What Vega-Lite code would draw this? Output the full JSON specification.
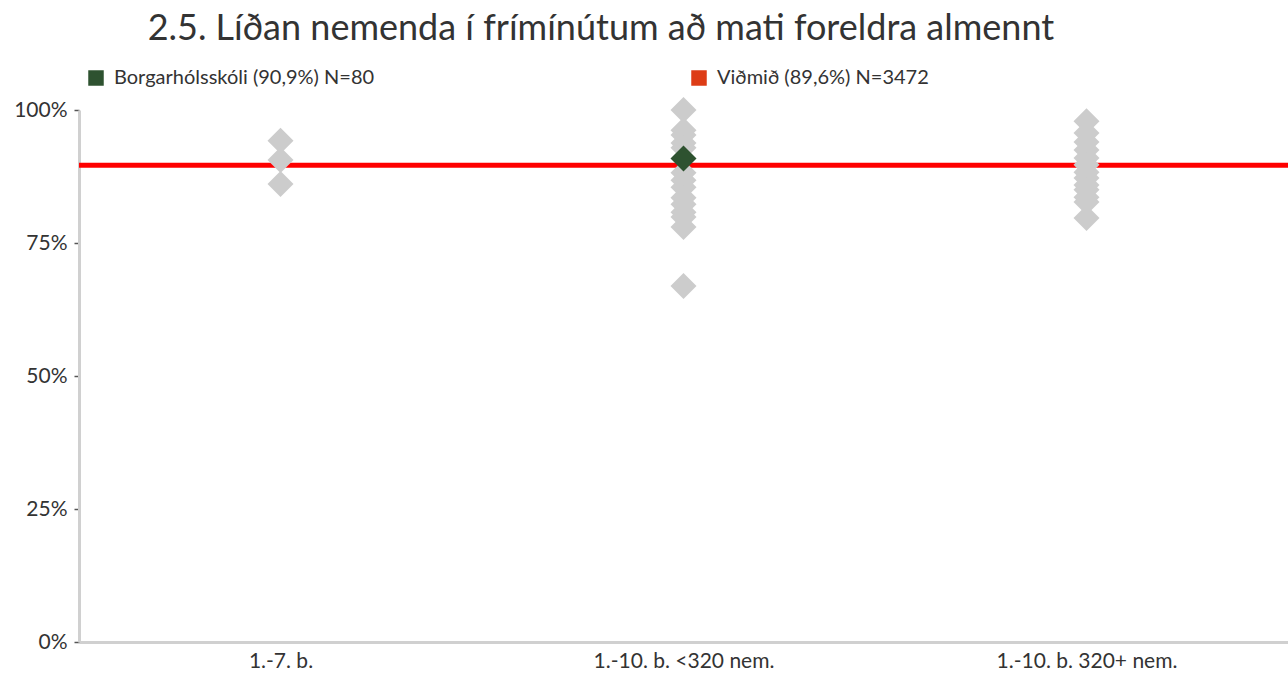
{
  "$schema": "https://vega.github.io/schema/vega-lite/v6.json",
  "width": 1209,
  "height": 532,
  "autosize": {"type": "none"},
  "padding": {"left": 79, "top": 110, "right": 0, "bottom": 33},
  "background": "white",
  "config": {"view": {"stroke": null}, "font": "Lato"},
  "title": {
    "text": "2.5. Líðan nemenda í frímínútum að mati foreldra almennt",
    "anchor": "start",
    "dx": 134,
    "offset": 20,
    "fontSize": 36,
    "font": "Lato",
    "fontWeight": "normal",
    "color": "#333333"
  },
  "datasets": {
    "schools": [
      {"group": "1.-7. b.", "value": 94.2},
      {"group": "1.-7. b.", "value": 90.6},
      {"group": "1.-7. b.", "value": 86.1},
      {"group": "1.-10. b. <320 nem.", "value": 100.0},
      {"group": "1.-10. b. <320 nem.", "value": 96.2},
      {"group": "1.-10. b. <320 nem.", "value": 95.3},
      {"group": "1.-10. b. <320 nem.", "value": 93.8},
      {"group": "1.-10. b. <320 nem.", "value": 92.9},
      {"group": "1.-10. b. <320 nem.", "value": 88.2},
      {"group": "1.-10. b. <320 nem.", "value": 86.8},
      {"group": "1.-10. b. <320 nem.", "value": 85.5},
      {"group": "1.-10. b. <320 nem.", "value": 83.5},
      {"group": "1.-10. b. <320 nem.", "value": 82.3},
      {"group": "1.-10. b. <320 nem.", "value": 80.8},
      {"group": "1.-10. b. <320 nem.", "value": 79.9},
      {"group": "1.-10. b. <320 nem.", "value": 78.0},
      {"group": "1.-10. b. <320 nem.", "value": 66.9},
      {"group": "1.-10. b. 320+ nem.", "value": 97.9},
      {"group": "1.-10. b. 320+ nem.", "value": 95.7},
      {"group": "1.-10. b. 320+ nem.", "value": 94.0},
      {"group": "1.-10. b. 320+ nem.", "value": 92.5},
      {"group": "1.-10. b. 320+ nem.", "value": 91.0},
      {"group": "1.-10. b. 320+ nem.", "value": 89.7},
      {"group": "1.-10. b. 320+ nem.", "value": 88.3},
      {"group": "1.-10. b. 320+ nem.", "value": 87.2},
      {"group": "1.-10. b. 320+ nem.", "value": 85.9},
      {"group": "1.-10. b. 320+ nem.", "value": 85.0},
      {"group": "1.-10. b. 320+ nem.", "value": 83.6},
      {"group": "1.-10. b. 320+ nem.", "value": 82.7},
      {"group": "1.-10. b. 320+ nem.", "value": 79.7}
    ],
    "school": [
      {"group": "1.-10. b. <320 nem.", "value": 90.9, "series": "Borgarhólsskóli (90,9%) N=80"}
    ],
    "benchmark": [
      {"value": 89.6, "series": "Viðmið (89,6%) N=3472"}
    ]
  },
  "encoding": {
    "y": {
      "field": "value",
      "type": "quantitative",
      "scale": {"domain": [0, 100], "nice": false},
      "axis": {
        "title": null,
        "values": [0, 25, 50, 75, 100],
        "labelExpr": "datum.value + '%'",
        "grid": false,
        "domainColor": "#D0D0D0",
        "domainWidth": 3,
        "tickColor": "#555555",
        "tickSize": 5,
        "tickWidth": 1.5,
        "labelFontSize": 21,
        "labelColor": "#333333",
        "labelFont": "Lato",
        "labelPadding": 7
      }
    }
  },
  "layer": [
    {
      "data": {"name": "benchmark"},
      "mark": {"type": "rule", "color": "#FF0000", "strokeWidth": 5},
      "encoding": {}
    },
    {
      "data": {"name": "schools"},
      "mark": {"type": "point", "shape": "diamond", "filled": true, "size": 676, "color": "#CCCCCC", "opacity": 1},
      "encoding": {
        "x": {
          "field": "group",
          "type": "nominal",
          "sort": ["1.-7. b.", "1.-10. b. <320 nem.", "1.-10. b. 320+ nem."],
          "scale": {"type": "point", "padding": 0.5, "domain": ["1.-7. b.", "1.-10. b. <320 nem.", "1.-10. b. 320+ nem."]},
          "axis": {
            "title": null,
            "labelAngle": 0,
            "ticks": false,
            "domainColor": "#D0D0D0",
            "domainWidth": 3,
            "labelFontSize": 21,
            "labelColor": "#333333",
            "labelFont": "Lato",
            "labelPadding": 8,
            "labelLimit": 0
          }
        }
      }
    },
    {
      "data": {"name": "school"},
      "mark": {"type": "point", "shape": "diamond", "filled": true, "size": 676, "opacity": 1},
      "encoding": {
        "x": {"field": "group", "type": "nominal"},
        "color": {
          "field": "series",
          "type": "nominal",
          "scale": {"domain": ["Borgarhólsskóli (90,9%) N=80", "Viðmið (89,6%) N=3472"], "range": ["#2E5230", "#DD3C16"]},
          "legend": {
            "title": null,
            "orient": "none",
            "legendX": 7,
            "legendY": -42,
            "direction": "horizontal",
            "columns": 2,
            "columnPadding": 314,
            "symbolType": "square",
            "symbolSize": 240,
            "symbolOpacity": 1,
            "symbolStrokeWidth": 0,
            "labelFontSize": 20,
            "labelColor": "#333333",
            "labelFont": "Lato",
            "labelOffset": 8,
            "labelLimit": 0
          }
        }
      }
    }
  ]
}
